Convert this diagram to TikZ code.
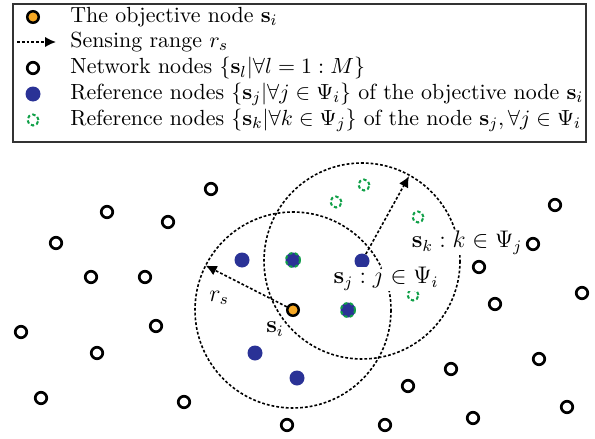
\documentclass[tikz,border=0pt]{standalone}
\usetikzlibrary{arrows.meta, positioning}

\definecolor{objorange}{RGB}{246,168,36}
\definecolor{refblue}{RGB}{42,50,150}
\definecolor{refgreen}{RGB}{16,160,72}

\begin{document}
\begin{tikzpicture}[
  x=0.5pt, y=-0.5pt,
  netnode/.style={draw, circle, line width=1.35pt, minimum size=5.75pt,
                  inner sep=0pt},
  objnode/.style={draw, circle, fill=objorange, line width=1.25pt,
                  minimum size=5.75pt, inner sep=0pt},
  refnode/.style={circle, fill=refblue, minimum size=7.5pt, inner sep=0pt},
  subref/.style={draw=refgreen, circle, line width=1pt, minimum size=5.5pt,
                 inner sep=0pt, dash pattern=on 1.7pt off 1.18pt},
  srange/.style={line width=0.8pt, dash pattern=on 1.4pt off 1pt},
  rarrow/.style={srange, -{Latex[length=5.5pt, width=5.2pt]}},
  legtext/.style={anchor=west, inner sep=0pt,
                  font=\fontsize{10.95}{13}\selectfont},
  lbl/.style={inner sep=0.3pt, font=\fontsize{12}{14}\selectfont},
]
  \useasboundingbox (0,0) rectangle (595,439);

  % legend
  \draw[line width=0.6pt, black!80] (13,4) rectangle (586,142);
  \node[objnode] (lg1) at (33,17) {};
  \node[legtext] (lt1) at (70,17) {The objective node $\mathbf{s}_i$};
  \coordinate (lg2a) at (17,42);
  \coordinate (lg2b) at (56,42);
  \draw[rarrow] (lg2a) -- (lg2b);
  \node[legtext] (lt2) at (70,42) {Sensing range $r_s$};
  \node[netnode] (lg3) at (33,68) {};
  \node[legtext] (lt3) at (70,68) {Network nodes $\{\mathbf{s}_l|\forall l=1:M\}$};
  \node[refnode] (lg4) at (33,94) {};
  \node[legtext] (lt4) at (70,94)
    {Reference nodes $\{\mathbf{s}_j|\forall j\in\Psi_i\}$ of the objective node $\mathbf{s}_i$};
  \node[subref] (lg5) at (33,120) {};
  \node[legtext] (lt5) at (70,120)
    {Reference nodes $\{\mathbf{s}_k|\forall k\in\Psi_j\}$ of the node $\mathbf{s}_j,\forall j\in\Psi_i$};

  % network nodes
  \foreach \x/\y [count=\k] in {211/189, 107/212, 168/222, 56/243, 91/277,
      145/277, 21/332, 156/326, 97/353, 41/398, 184/402, 287/425, 385/425,
      408/386, 451/369, 473/418, 495/304, 539/359, 567/407, 555/205,
      533/244, 479/267, 582/293}
    \node[netnode] (n\k) at (\x,\y) {};

  % reference nodes of s_k
  \foreach \x/\y [count=\k] in {364/185, 336/202, 418/217, 413/295}
    \node[subref] (k\k) at (\x,\y) {};

  % reference nodes of s_i
  \node[refnode] (r1) at (242,260) {};
  \node[refnode] (r2) at (293,260) {};
  \node[subref, minimum size=7pt] (r2k) at (293,260) {};
  \node[refnode] (sj) at (362,261) {};
  \node[refnode] (r4) at (348,310) {};
  \node[subref, minimum size=7pt] (r4k) at (348,310) {};
  \node[refnode] (r5) at (255,353) {};
  \node[refnode] (r6) at (297,378) {};

  % objective node
  \node[objnode] (si) at (293,310) {};

  % sensing ranges
  \draw[srange] (si) circle [radius=98];
  \draw[srange] (sj) circle [radius=98];
  \draw[rarrow] (si) -- ([shift={(-153:98)}]si.center);
  \draw[rarrow] (sj) -- ([shift={(-61:97)}]sj.center);

  % labels
  \node[lbl] (lrs) at (219,298) {$r_s$};
  \node[lbl] (lsi) at (275,329) {$\mathbf{s}_i$};
  \node[lbl, fill=white] (lsj) at (386,279) {$\mathbf{s}_j : j\in\Psi_i$};
  \node[lbl, fill=white] (lsk) at (467,243) {$\mathbf{s}_k : k\in\Psi_j$};
\end{tikzpicture}
\end{document}
